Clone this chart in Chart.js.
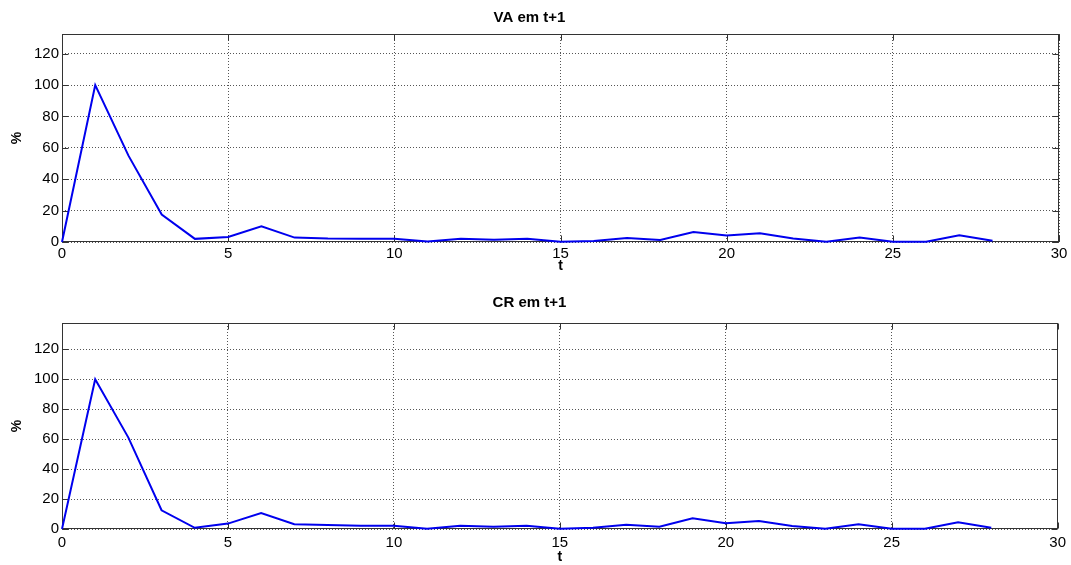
<!DOCTYPE html>
<html>
<head>
<meta charset="utf-8">
<script src="https://cdn.jsdelivr.net/npm/chart.js@4/dist/chart.umd.min.js"></script>
<style>
  html, body { margin: 0; padding: 0; background: #fff; }
  #wrap { position: relative; width: 1071px; height: 565px; }
  canvas { position: absolute; left: 0; }
</style>
</head>
<body>
<div id="wrap">
  <canvas id="c1" width="1071" height="285" style="top:0px"></canvas>
  <canvas id="c2" width="1071" height="280" style="top:285px"></canvas>
</div>
<script>
// ---- Data ----
const tValues = [0,1,2,3,4,5,6,7,8,9,10,11,12,13,14,15,16,17,18,19,20,21,22,23,24,25,26,27,28];
const vaValues = [0,100,55,17.5,2,3.2,10,2.8,2.2,2.1,2.1,0.3,2,1.4,2,0.2,0.7,2.5,1.3,6.3,4.1,5.5,2.2,0.2,2.9,0.1,0.1,4.3,0.8];
const crValues = [0,100,61,12.5,0.8,3.6,10.7,3.2,2.6,2.2,2.2,0.1,2.2,1.5,2.2,0.1,0.8,2.8,1.5,7.1,3.9,5.4,2.0,0.2,3.1,0.2,0.2,4.5,0.9];
const xTickStep = 5;
const yTickStep = 20;
const titles = ['VA em t+1', 'CR em t+1'];

const FONT = '"Liberation Sans", Arial, Helvetica, sans-serif';

const boxTicksPlugin = {
  id: 'boxTicks',
  beforeDatasetsDraw(chart) {
    const ctx = chart.ctx;
    const a = chart.chartArea;
    const xs = chart.scales.x, ys = chart.scales.y;
    const L = Math.round(a.left) + 0.5, R = Math.round(a.right) - 0.5;
    const T = Math.round(a.top) + 0.5, B = Math.round(a.bottom) - 0.5;
    ctx.save();
    ctx.strokeStyle = '#333';
    ctx.lineWidth = 1;
    ctx.setLineDash([]);
    ctx.strokeRect(L, T, R - L, B - T);
    const len = 6;
    ctx.beginPath();
    xs.ticks.forEach(t => {
      const px = Math.round(xs.getPixelForValue(t.value)) + 0.5;
      ctx.moveTo(px, B); ctx.lineTo(px, B - len);
      ctx.moveTo(px, T); ctx.lineTo(px, T + len);
    });
    ys.ticks.forEach(t => {
      const py = Math.round(ys.getPixelForValue(t.value)) + 0.5;
      ctx.moveTo(L, py); ctx.lineTo(L + len, py);
      ctx.moveTo(R, py); ctx.lineTo(R - len, py);
    });
    ctx.stroke();
    ctx.restore();
  }
};

function makeChart(id, title, values, yMax, g) {
  const pts = tValues.map((t, i) => ({ x: t, y: values[i] }));
  return new Chart(document.getElementById(id), {
    type: 'line',
    data: {
      datasets: [{
        data: pts,
        borderColor: '#0000ee',
        borderWidth: 2,
        pointRadius: 0,
        tension: 0,
        fill: false,
        clip: 2
      }]
    },
    options: {
      responsive: false,
      animation: false,
      events: [],
      layout: { padding: { left: 0, right: 12, top: 0, bottom: 0 } },
      plugins: {
        legend: { display: false },
        tooltip: { enabled: false },
        title: {
          display: true,
          text: title,
          color: '#000',
          font: { family: FONT, size: 15, weight: 'bold', lineHeight: 1.2 },
          padding: { top: g.titleTop, bottom: g.titleBottom }
        }
      },
      scales: {
        x: {
          type: 'linear',
          min: 0, max: 30,
          afterFit(s) { s.height = g.xHeight; },
          ticks: { stepSize: xTickStep, color: '#000', padding: g.xTickPad,
                   font: { family: FONT, size: 15 }, maxRotation: 0 },
          grid: { color: '#555', lineWidth: 1, drawTicks: false },
          border: { display: false, dash: [1, 2] },
          title: { display: true, text: 't', color: '#000',
                   font: { family: FONT, size: 14, weight: 'bold' },
                   padding: { top: 0, bottom: g.xTitlePad } }
        },
        y: {
          type: 'linear',
          min: 0, max: yMax,
          afterFit(s) { s.width = 62; },
          afterBuildTicks(s) { s.ticks = s.ticks.filter(t => t.value % yTickStep === 0); },
          ticks: { stepSize: yTickStep, color: '#000', padding: 3,
                   font: { family: FONT, size: 15 } },
          grid: { color: '#555', lineWidth: 1, drawTicks: false },
          border: { display: false, dash: [1, 2] },
          title: { display: true, text: '%', color: '#000',
                   font: { family: FONT, size: 14, weight: 'bold' },
                   padding: { top: 9, bottom: 0 } }
        }
      }
    },
    plugins: [boxTicksPlugin]
  });
}

makeChart('c1', titles[0], vaValues, 132.5,
  { titleTop: 9, titleBottom: 7, xHeight: 43, xTickPad: 3, xTitlePad: 10.6 });
makeChart('c2', titles[1], crValues, 137.5,
  { titleTop: 9, titleBottom: 11, xHeight: 36, xTickPad: 5, xTitlePad: -1 });
</script>
</body>
</html>
